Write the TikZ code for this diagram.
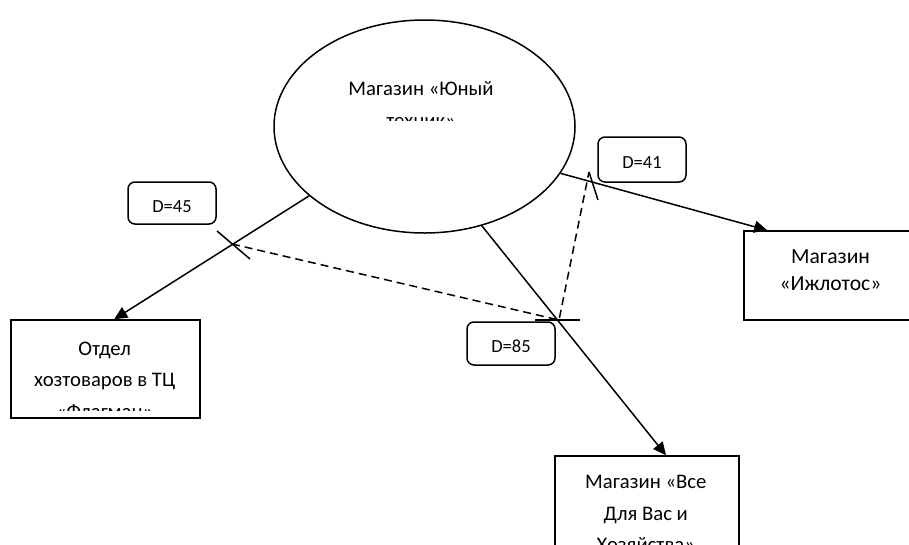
\documentclass[tikz,border=0pt]{standalone}
\usepackage{fontspec}
\setmainfont{Carlito}
\usetikzlibrary{arrows.meta,shapes.geometric}

\tikzset{
  shop/.style={draw,ellipse,line width=1.5pt,minimum width=301pt,minimum height=213pt,inner sep=0pt},
  outlet/.style={draw,rectangle,line width=1.5pt,inner sep=0pt},
  txt/.style={align=center,anchor=base,inner sep=0pt,font=\fontsize{20.7}{31.7}\selectfont},
  dist/.style={draw,rounded corners=7pt,line width=1.5pt,minimum width=88pt,inner sep=0pt,
    text height=18.9pt,text depth=0pt,font=\fontsize{18.5}{22}\selectfont},
  link/.style={line width=1.5pt,-{Triangle[length=13pt,width=12pt]}},
  cutmark/.style={line width=1.5pt},
  walk/.style={line width=1.5pt,dash pattern=on 8pt off 5pt}
}

\begin{document}
\begin{tikzpicture}
  [x=1pt,y=-1pt]
  \clip (0,0) rectangle (909,544);

  % shops (text anchored at the baseline of the last line)
  \node[shop] (yunt) at (424.5,126.5) {};
  \node[outlet,minimum width=189pt,minimum height=98pt] (otdel) at (105.5,369) {};
  \node[outlet,minimum width=173pt,minimum height=89pt] (izh) at (830.5,275.5) {};
  \node[outlet,minimum width=184pt,minimum height=110pt] (vse) at (647,511) {};

  \begin{scope}
    \clip (330,60) rectangle (520,120);
    \node[txt] (yunttxt) at (421,127) {Магазин «Юный\\техник»};
  \end{scope}
  \begin{scope}
    \clip (otdel.north west) rectangle (200,410);
    \node[txt] (otdeltxt) at (104.7,418.4) {Отдел\\хозтоваров в ТЦ\\«Флагман»};
  \end{scope}
  \node[txt,font=\fontsize{21.6}{26.7}\selectfont] (izhtxt) at (830.5,290) {Магазин\\«Ижлотос»};
  \node[txt] (vsetxt) at (645.8,551.7) {Магазин «Все\\Для Вас и\\Хозяйства»};

  % arrows
  \coordinate (otdelin) at ([xshift=104pt]otdel.north west);
  \coordinate (izhin) at ([xshift=24pt]izh.north west);
  \coordinate (vsein) at ([xshift=19pt]vse.north);
  \foreach \from/\to in {yunt.211/otdelin,yunt.300/vsein,yunt.341/izhin}
  \draw[link] (\from) -- (\to);

  % distances
  \node[dist,minimum height=42pt] (d45) at (172,203) {D=45};
  \node[dist,minimum height=45pt] (d41) at (642,159.5) {D=41};
  \node[dist,minimum height=43pt] (d85) at (511,343.5) {D=85};

  \coordinate (t45) at (232,244);
  \coordinate (t85) at (559,320);
  \coordinate (t41) at (589,172);
  \draw[cutmark] ([shift={(-15,-13)}]t45) -- ([shift={(18,15)}]t45);
  \draw[cutmark] ([shift={(-24,0)}]t85) -- ([shift={(21,0)}]t85);
  \draw[cutmark] (t41) -- ([shift={(9,28)}]t41);
  \draw[walk] (t45) -- (t85) -- (t41);
\end{tikzpicture}
\end{document}
